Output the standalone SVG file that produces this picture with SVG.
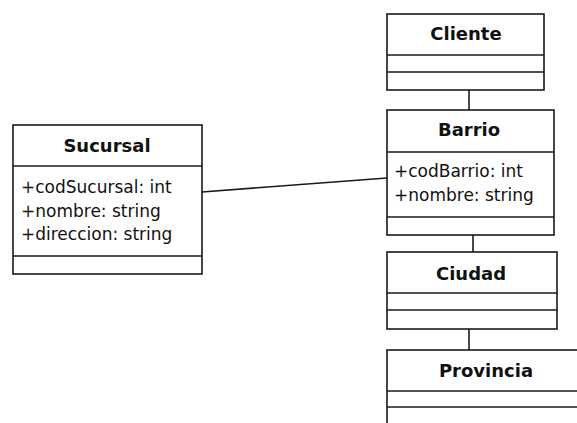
<svg xmlns="http://www.w3.org/2000/svg" width="577" height="423" viewBox="0 0 577 423">
<style>
.box{fill:#fff;stroke:#1a1a1a;stroke-width:1.6}
.ln{stroke:#1a1a1a;stroke-width:1.6;fill:none}
.h{font-family:"DejaVu Sans",Verdana,sans-serif;font-size:18px;font-weight:bold;text-anchor:middle;fill:#111}
.a{font-family:"DejaVu Sans",Verdana,sans-serif;font-size:17px;fill:#111}
</style>
<rect width="577" height="423" fill="#fff"/>
<g id="connectors">
<line class="ln" x1="202" y1="192" x2="387" y2="178"/>
<line class="ln" x1="469" y1="90" x2="469" y2="110"/>
<line class="ln" x1="473" y1="235" x2="473" y2="252"/>
<line class="ln" x1="469" y1="329" x2="469" y2="350"/>
</g>
<g id="sucursal">
<rect class="box" x="13" y="125" width="189" height="149"/>
<line class="ln" x1="13" y1="166" x2="202" y2="166"/>
<line class="ln" x1="13" y1="256" x2="202" y2="256"/>
<text class="h" x="107" y="152">Sucursal</text>
<text class="a" x="21" y="193">+codSucursal: int</text>
<text class="a" x="21" y="217">+nombre: string</text>
<text class="a" x="21" y="240">+direccion: string</text>
</g>
<g id="cliente">
<rect class="box" x="387" y="14" width="157" height="76"/>
<line class="ln" x1="387" y1="55" x2="544" y2="55"/>
<line class="ln" x1="387" y1="72" x2="544" y2="72"/>
<text class="h" x="466" y="40">Cliente</text>
</g>
<g id="barrio">
<rect class="box" x="387" y="110" width="167" height="125"/>
<line class="ln" x1="387" y1="152" x2="554" y2="152"/>
<line class="ln" x1="387" y1="217" x2="554" y2="217"/>
<text class="h" x="469" y="136">Barrio</text>
<text class="a" x="394" y="177">+codBarrio: int</text>
<text class="a" x="394" y="201">+nombre: string</text>
</g>
<g id="ciudad">
<rect class="box" x="387" y="252" width="170" height="77"/>
<line class="ln" x1="387" y1="293" x2="557" y2="293"/>
<line class="ln" x1="387" y1="310" x2="557" y2="310"/>
<text class="h" x="471" y="280">Ciudad</text>
</g>
<g id="provincia">
<rect class="box" x="387" y="350" width="200" height="90"/>
<line class="ln" x1="387" y1="391" x2="587" y2="391"/>
<line class="ln" x1="387" y1="407" x2="587" y2="407"/>
<text class="h" x="486" y="377">Provincia</text>
</g>
</svg>
